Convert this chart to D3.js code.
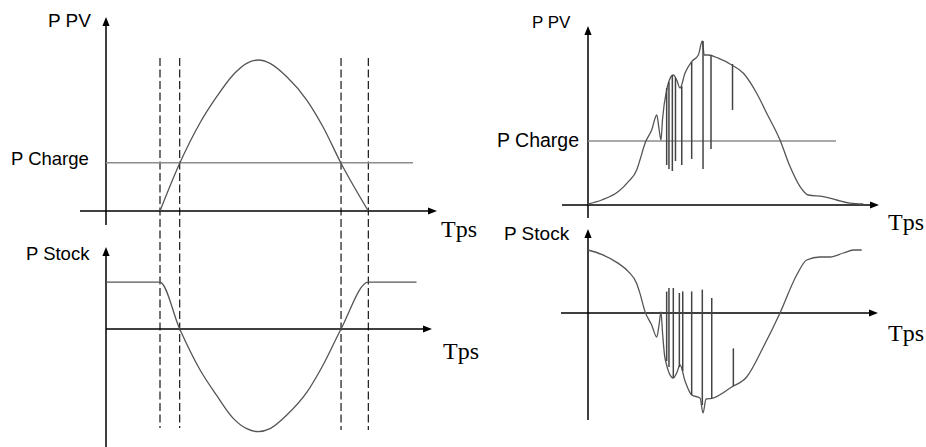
<!DOCTYPE html>
<html><head><meta charset="utf-8">
<script src="https://cdn.jsdelivr.net/npm/d3@7"></script>
<style>html,body{margin:0;padding:0;background:#fff;overflow:hidden}</style>
</head><body>
<svg id="c" width="926" height="447"></svg>
<script>
// ---------- data (time in hours, power in arbitrary units) ----------
const pChargeLeft = 32;
const pvLeft = [[4.0,0],[5.46,31.6],[6.96,58.3],[8.2,75.7],[9.41,90.1],[10.42,97.8],[11.28,100],
  [12.15,97.8],[13.39,88.9],[14.87,73.5],[16.07,55.8],[17.41,31.6],[19.43,0]];
const stockLeft = [[0,31],[4.0,31],[5.46,0],[6.96,-27],[8.2,-44],[9.41,-59],[10.42,-66],[11.28,-68],
  [12.15,-66],[13.39,-57],[14.87,-42],[16.07,-24],[17.41,0],[19.43,31],[23.0,31]];
const switchTimes = [4.0, 5.46, 17.41, 19.43];

const pChargeRight = 32;
const pvRight = [[0,0.5],[1.13,2.5],[2.51,6.7],[3.34,11.7],[4.03,17.5],[4.30,22.5],[4.72,30.9],[5.27,37.5],
  [5.69,45],[5.88,38],[6.04,32.5],[6.17,43],[6.51,57.5],[6.65,61],[7.06,65],[7.34,62.5],[7.62,58.5],
  [8.03,66],[8.58,71.7],[9.13,75],[9.46,82],[9.62,75],[9.96,75],[10.78,73.4],[11.9,70],[12.86,65.9],
  [13.96,55.9],[14.79,45.9],[15.89,32.5],[16.72,19.2],[17.55,9.2],[18.23,5],[19.47,4.2],[20.58,2.5],
  [21.68,0.9],[22.78,0.5]];
// [time, top, bottom] of the cloud dips
const pvRightDips = [[6.51,58.5,20],[6.70,61.5,18],[6.98,65,17],[7.24,63.5,22],[7.76,59.5,20],
  [8.58,71.5,23],[9.52,82,18],[10.18,75,28],[11.96,70.5,47.5]];
const stockRight = [[0,31.5],[1.13,29.3],[2.51,24.8],[3.34,20.7],[4.03,14.8],[4.30,9.8],[4.72,0.7],
  [5.27,-6],[5.69,-12],[5.88,-6],[6.04,0.5],[6.17,-10],[6.37,-22.5],[7.06,-32.5],[7.34,-30],[7.62,-26],
  [8.03,-34],[8.58,-41],[9.27,-42.5],[9.52,-50],[9.77,-43],[10.24,-42.7],[11.89,-37],[13.13,-32],
  [14.51,-17],[15.89,0],[17.27,19],[18.1,26.5],[19.2,28],[20.03,28],[21.13,30],[21.96,31.5],[22.65,31.5]];
// [time, bottom, top] of the spikes
const stockRightSpikes = [[6.51,-24,10.7],[6.70,-27,12.5],[7.06,-32.5,12.5],[7.56,-27,10],[7.84,-29,10.8],
  [8.58,-41,10.8],[9.46,-46,11.7],[10.24,-42.7,7.5],[12.03,-36.5,-17.7]];

const labels = ["P PV", "P Charge", "P Stock", "Tps"];

// ---------- drawing ----------
const svg = d3.select("#c");
const sans = "'Liberation Sans', Arial, sans-serif";
const serif = "'Liberation Serif', 'Times New Roman', serif";
const curveCol = "#555", axisCol = "#000", chargeCol = "#8c8c8c";

const xL = d3.scaleLinear().domain([0,24]).range([106,430]);
const yLT = d3.scaleLinear().domain([0,100]).range([211,60]);
const yLB = d3.scaleLinear().domain([0,-68]).range([329,431.7]);
const xR = d3.scaleLinear().domain([0,24]).range([588,878]);
const yRT = d3.scaleLinear().domain([0,32]).range([205,141]);
const yRB = d3.scaleLinear().domain([0,32]).range([313,249]);

function arrow(x, y, dir) {
  const L = 9, W = 3.6;
  const p = dir === "up"
    ? [[x,y],[x-W,y+L],[x+W,y+L]]
    : [[x,y],[x-L,y-W],[x-L,y+W]];
  svg.append("path").attr("d","M"+p.map(q=>q.join(",")).join("L")+"Z").attr("fill",axisCol);
}
function hline(x1,x2,y,col,w){ svg.append("line").attr("x1",x1).attr("x2",x2).attr("y1",y).attr("y2",y)
  .attr("stroke",col).attr("stroke-width",w); }
function vline(x,y1,y2,col,w,dash){ const l=svg.append("line").attr("x1",x).attr("x2",x).attr("y1",y1).attr("y2",y2)
  .attr("stroke",col).attr("stroke-width",w); if(dash) l.attr("stroke-dasharray",dash); }
function text(s,x,y,font,size){ svg.append("text").attr("x",x).attr("y",y).attr("font-family",font)
  .attr("font-size",size).attr("fill","#000").text(s); }

// dashed switching lines (left)
switchTimes.forEach((t,i)=> vline(xL(t), 58, i<2?428:430, "#000", 1.1, "8,3.5"));

// left top axes
vline(xL(0), 225, 20, axisCol, 1.5); arrow(xL(0), 17, "up");
hline(80, 430, yLT(0), axisCol, 1.5); arrow(437, yLT(0), "right");
hline(xL(0), 413, yLT(pChargeLeft), chargeCol, 1.4);
// left bottom axes
vline(xL(0), 447, 250, axisCol, 1.5); arrow(xL(0), 247, "up");
hline(xL(0), 425, yLB(0), axisCol, 1.5); arrow(432, yLB(0), "right");

const lineLT = d3.line().x(d=>xL(d[0])).y(d=>yLT(d[1])).curve(d3.curveMonotoneX);
const lineLB = d3.line().x(d=>xL(d[0])).y(d=>yLB(d[1])).curve(d3.curveMonotoneX);
svg.append("path").attr("d", lineLT(pvLeft)).attr("fill","none").attr("stroke",curveCol).attr("stroke-width",1.3);
svg.append("path").attr("d", lineLB(stockLeft)).attr("fill","none").attr("stroke",curveCol).attr("stroke-width",1.3);

// right top axes
vline(xR(0), 218, 30, axisCol, 1.5); arrow(xR(0), 26, "up");
hline(562, 872, yRT(0), axisCol, 1.5); arrow(879, yRT(0), "right");
hline(xR(0), 836, yRT(pChargeRight), chargeCol, 1.4);
// right bottom axes
vline(xR(0), 420, 233, axisCol, 1.5); arrow(xR(0), 229, "up");
hline(561, 871, yRB(0), axisCol, 1.5); arrow(878, yRB(0), "right");

const lineRT = d3.line().x(d=>xR(d[0])).y(d=>yRT(d[1])).curve(d3.curveMonotoneX);
const lineRB = d3.line().x(d=>xR(d[0])).y(d=>yRB(d[1])).curve(d3.curveMonotoneX);
svg.append("path").attr("d", lineRT(pvRight)).attr("fill","none").attr("stroke",curveCol).attr("stroke-width",1.3);
svg.append("path").attr("d", lineRB(stockRight)).attr("fill","none").attr("stroke",curveCol).attr("stroke-width",1.3);
svg.selectAll(".dipT").data(pvRightDips).enter().append("line")
  .attr("x1",d=>xR(d[0])).attr("x2",d=>xR(d[0])).attr("y1",d=>yRT(d[1])).attr("y2",d=>yRT(d[2]))
  .attr("stroke","#444").attr("stroke-width",1.5);
svg.selectAll(".dipB").data(stockRightSpikes).enter().append("line")
  .attr("x1",d=>xR(d[0])).attr("x2",d=>xR(d[0])).attr("y1",d=>yRB(d[1])).attr("y2",d=>yRB(d[2]))
  .attr("stroke","#444").attr("stroke-width",1.5);

// labels
text(labels[0], 48, 27, sans, 19);
text(labels[1], 11, 165, sans, 18.5);
text(labels[2], 26, 260, sans, 18.5);
text(labels[3], 441, 237, serif, 24);
text(labels[3], 443, 359, serif, 24);
text(labels[0], 532, 28, sans, 17);
text(labels[1], 497, 147, sans, 19.5);
text(labels[2], 504, 240, sans, 19);
text(labels[3], 888, 230, serif, 24);
text(labels[3], 888, 341, serif, 24);
</script>
</body></html>
